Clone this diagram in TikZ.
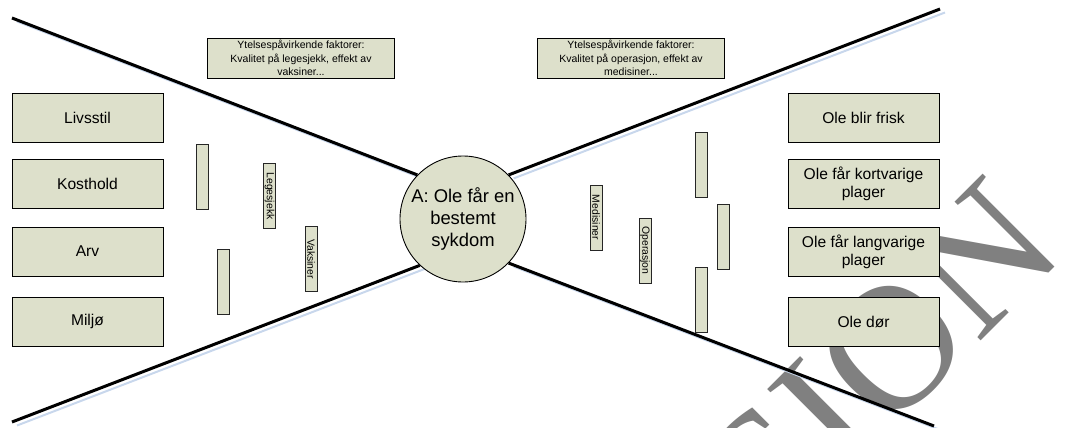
\documentclass[tikz,border=0pt]{standalone}
\usepackage{fontspec}
\setmainfont{Liberation Sans}
\newfontfamily\wmfont{Liberation Serif}
\usetikzlibrary{positioning,backgrounds}
\definecolor{boxfill}{HTML}{DDE0CB}
\definecolor{shadowblue}{HTML}{C8D7EC}
\definecolor{wmgrey}{HTML}{808080}

\begin{document}
\begin{tikzpicture}[x=1pt, y=-1pt,
    cause/.style={draw=black, fill=boxfill, line width=0.9pt, minimum width=151pt,
      minimum height=49pt, inner sep=0pt, align=center, font=\fontsize{15.6}{18.3}\selectfont},
    note/.style={draw=black, fill=boxfill, line width=0.8pt, minimum width=187pt,
      minimum height=40pt, inner sep=0pt, align=center, font=\fontsize{10.5}{13.4}\selectfont},
    barrier/.style={draw=black!85, fill=boxfill, line width=0.8pt, rotate=-90,
      minimum width=65pt, minimum height=12pt, inner sep=0pt, font=\fontsize{10.4}{12}\selectfont},
    event/.style={circle, draw=black, fill=boxfill, line width=0.9pt, minimum size=126pt,
      inner sep=0pt, align=center, font=\fontsize{18.4}{21.7}\selectfont},
    arm/.style={line width=3pt},
    armshadow/.style={line width=2pt, shadowblue}]
    \useasboundingbox (0,0) rectangle (1074,428);
    % top event
    \node[event] (circ) at (463,219) {A: Ole får en\\bestemt\\sykdom};
    % causes and consequences
    \foreach \y/\name/\lab in {117.5/livsstil/Livsstil, 183.5/kosthold/Kosthold,
        251.5/arv/Arv, 321.5/miljo/Miljø}
      \node[cause] (\name) at (87.5,\y) {\lab};
    \foreach \y/\name/\lab in {117.5/frisk/Ole blir frisk, 183.5/kort/Ole får kortvarige\\plager,
        251.5/lang/Ole får langvarige\\plager, 321.5/dor/Ole dør}
      \node[cause] (\name) at (863.5,\y) {\lab};
    \node[note] (noteleft) at (301,58) {Ytelsespåvirkende faktorer:\\Kvalitet på legesjekk, effekt av\\vaksiner...};
    \node[note] (noteright) at (631,58) {Ytelsespåvirkende faktorer:\\Kvalitet på operasjon, effekt av\\medisiner...};
    % barriers
    \foreach \x/\y/\name/\lab in {202/176.5/bara/, 269.5/196/legesjekk/Legesjekk,
        311/259/vaksiner/Vaksiner, 223/281.5/barb/, 596/217.5/medisiner/Medisiner,
        645/250.5/operasjon/Operasjon, 701/165/barc/, 723/236.5/bard/, 701/300/bare/}
      \node[barrier] (\name) at (\x,\y) {\lab};
    % arms of the bow tie
    \coordinate (tl) at (12,18);
    \coordinate (tr) at (940,9);
    \coordinate (bl) at (12,422);
    \coordinate (br) at (934,426);
    \begin{scope}[on background layer]
      \clip (0,0) rectangle (1074,428);
      \node[wmgrey, rotate=45, anchor=base west, inner sep=0pt,
        font=\fontsize{178}{178}\wmfont] (wm) at (775,547) {SION};
      \foreach \a/\b in {tl/136, tr/44, bl/227, br/316}
        \draw[armshadow] ([shift={(5,3.5)}]\a) -- ([shift={(5,3.5)}]circ.\b);
      \foreach \a/\b in {tl/136, tr/44, bl/227, br/316}
        \draw[arm] (\a) -- (circ.\b);
    \end{scope}
\end{tikzpicture}
\end{document}
